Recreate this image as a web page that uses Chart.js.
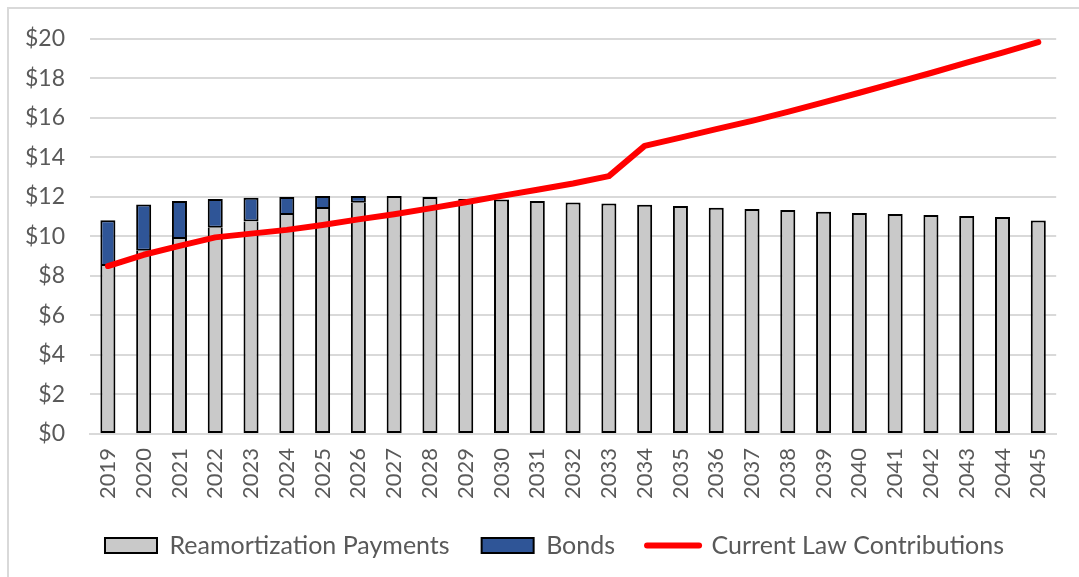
<!DOCTYPE html>
<html>
<head>
<meta charset="utf-8">
<script src="https://cdn.jsdelivr.net/npm/chart.js@4/dist/chart.umd.min.js"></script>
<style>
  html, body { margin: 0; padding: 0; background: #fff; overflow: hidden; }
  #wrap { position: relative; width: 1079px; height: 577px; }
  #frame { position: absolute; left: 7px; top: 7px; width: 1200px; height: 700px;
           border-left: 2px solid #d9d9d9; border-top: 2px solid #d9d9d9; pointer-events: none; }
  canvas { position: absolute; left: 0; top: 0; }
</style>
</head>
<body>
<div id="wrap">
  <div id="frame"></div>
  <canvas id="chart" width="1079" height="577"></canvas>
</div>
<script>
// years on the x axis
const years = ['2019', '2020', '2021', '2022', '2023', '2024', '2025', '2026', '2027',
  '2028', '2029', '2030', '2031', '2032', '2033', '2034', '2035', '2036', '2037',
  '2038', '2039', '2040', '2041', '2042', '2043', '2044', '2045'];

// $ billions
const reamortization = [8.50, 9.27, 9.87, 10.44, 10.76, 11.08, 11.39, 11.70, 12.04,
  11.99, 11.90, 11.87, 11.79, 11.72, 11.67, 11.60, 11.54, 11.45, 11.39,
  11.34, 11.25, 11.18, 11.13, 11.08, 11.03, 10.98, 10.80];

const bonds = [2.32, 2.35, 1.92, 1.45, 1.20, 0.92, 0.65, 0.34, null,
  null, null, null, null, null, null, null, null, null, null,
  null, null, null, null, null, null, null, null];

const currentLaw = [8.50, 9.07, 9.52, 9.95, 10.14, 10.33, 10.58, 10.86, 11.12,
  11.42, 11.73, 12.05, 12.36, 12.68, 13.05, 14.58, 15.00, 15.43, 15.85,
  16.30, 16.78, 17.27, 17.77, 18.27, 18.79, 19.30, 19.83];

const yTicks = [0, 2, 4, 6, 8, 10, 12, 14, 16, 18, 20];

const textColor = '#595959';
const gridColor = '#d9d9d9';
const fontFamily = 'Lato, "Open Sans", sans-serif';

// nudge the centred legend a little to the right, like the original
const legendShift = {
    id: 'legendShift',
    afterLayout(chart) {
        chart.legend.left += 11;
        chart.legend.right += 11;
    }
};

const ctx = document.getElementById('chart').getContext('2d');

new Chart(ctx, {
    type: 'bar',
    data: {
        labels: years,
        datasets: [
            {
                label: 'Reamortization Payments',
                data: reamortization,
                backgroundColor: '#c9c9c9',
                borderColor: '#000000',
                borderWidth: 2,
                // where a bond bar sits on top, its bottom edge draws the seam
                borderSkipped: (c) => bonds[c.dataIndex] != null ? 'end' : false,
                order: 1
            },
            {
                label: 'Bonds',
                data: bonds,
                backgroundColor: '#2f5597',
                borderColor: '#000000',
                borderWidth: 2,
                borderSkipped: false,
                order: 1
            },
            {
                type: 'line',
                label: 'Current Law Contributions',
                data: currentLaw,
                borderColor: '#ff0000',
                backgroundColor: '#ff0000',
                borderWidth: 6,
                pointRadius: 0,
                tension: 0,
                borderCapStyle: 'round',
                borderJoinStyle: 'round',
                order: 0
            }
        ]
    },
    options: {
        responsive: false,
        animation: false,
        layout: { padding: { left: 25, right: 17, top: 26, bottom: 9 } },
        datasets: {
            bar: { categoryPercentage: 1, barPercentage: 0.42 }
        },
        scales: {
            x: {
                stacked: true,
                grid: { display: false, drawTicks: false },
                border: { display: true, color: gridColor, width: 2 },
                ticks: {
                    color: textColor,
                    font: { family: fontFamily, size: 22 },
                    minRotation: 90,
                    maxRotation: 90,
                    padding: 14,
                    autoSkip: false
                },
                afterFit: (scale) => { scale.height = 67; }
            },
            y: {
                stacked: true,
                min: 0,
                max: 20,
                afterBuildTicks: (scale) => { scale.ticks = yTicks.map(v => ({ value: v })); },
                grid: { color: gridColor, lineWidth: 2, drawTicks: false },
                border: { display: false },
                ticks: {
                    color: textColor,
                    font: { family: fontFamily, size: 23 },
                    padding: 25,
                    callback: (v) => '$' + v
                },
                afterFit: (scale) => { scale.width = 65; }
            }
        },
        plugins: {
            tooltip: { enabled: false },
            legend: {
                position: 'bottom',
                labels: {
                    color: textColor,
                    font: { family: fontFamily, size: 25 },
                    usePointStyle: true,
                    pointStyleWidth: 52,
                    boxHeight: 15,
                    padding: 32,
                    sort: (a, b) => a.datasetIndex - b.datasetIndex,
                    generateLabels: (chart) => {
                        const items = Chart.defaults.plugins.legend.labels.generateLabels(chart);
                        items.forEach(item => {
                            if (item.datasetIndex === 2) {
                                item.pointStyle = 'line';
                                item.lineWidth = 6;
                                item.strokeStyle = '#ff0000';
                                item.lineCap = 'round';
                            } else {
                                item.pointStyle = 'rect';
                                item.lineWidth = 2;
                                item.strokeStyle = '#000000';
                            }
                        });
                        return items;
                    }
                }
            }
        }
    },
    plugins: [legendShift]
});
</script>
</body>
</html>
